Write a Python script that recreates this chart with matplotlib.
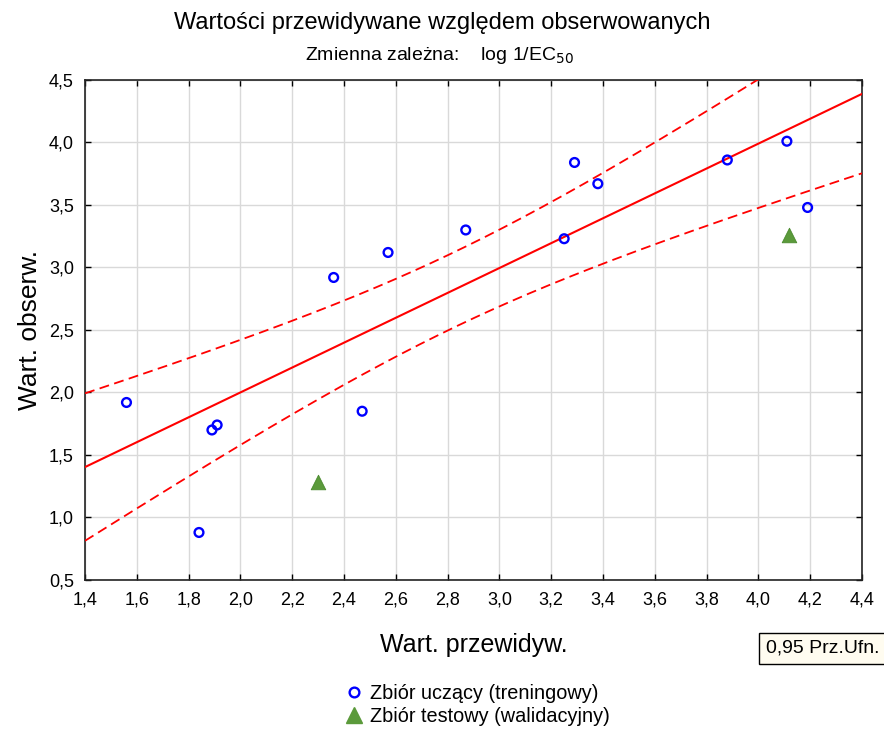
import numpy as np
import matplotlib
matplotlib.use("Agg")
import matplotlib.pyplot as plt
from matplotlib.ticker import FixedLocator, FuncFormatter
from matplotlib.lines import Line2D

plt.rcParams['font.family'] = ['Liberation Sans', 'DejaVu Sans']

# Training set: predicted vs observed log 1/EC50
train_pred = [1.56, 1.84, 1.89, 1.91, 2.36, 2.47, 2.57, 2.87, 3.25, 3.29, 3.38, 3.88, 4.11, 4.19]
train_obs = [1.92, 0.88, 1.70, 1.74, 2.92, 1.85, 3.12, 3.30, 3.23, 3.84, 3.67, 3.86, 4.01, 3.48]

# Test (validation) set
test_pred = [2.30, 4.12]
test_obs = [1.28, 3.26]

x_ticks = [1.4, 1.6, 1.8, 2.0, 2.2, 2.4, 2.6, 2.8, 3.0, 3.2, 3.4, 3.6, 3.8, 4.0, 4.2, 4.4]
y_ticks = [0.5, 1.0, 1.5, 2.0, 2.5, 3.0, 3.5, 4.0, 4.5]
conf_level = 0.95
t_crit = 2.179  # Student t, 0.975 quantile, 12 df

# Linear fit of observed on predicted, with 95% confidence band for the mean
xp = np.array(train_pred)
yp = np.array(train_obs)
n = len(xp)
slope, intercept = np.polyfit(xp, yp, 1)
resid = yp - (slope * xp + intercept)
s = np.sqrt(np.sum(resid ** 2) / (n - 2))
sxx = np.sum((xp - xp.mean()) ** 2)
xs = np.linspace(x_ticks[0], x_ticks[-1], 300)
fit = slope * xs + intercept
half = t_crit * s * np.sqrt(1.0 / n + (xs - xp.mean()) ** 2 / sxx)

fig = plt.figure(figsize=(8.84, 7.31), dpi=100)
ax = fig.add_axes([0.0962, 0.2066, 0.8789, 0.6840])

ax.set_xlim(x_ticks[0], x_ticks[-1])
ax.set_ylim(y_ticks[0], y_ticks[-1])
ax.xaxis.set_major_locator(FixedLocator(x_ticks))
ax.yaxis.set_major_locator(FixedLocator(y_ticks))
comma = FuncFormatter(lambda v, p: f"{v:.1f}".replace('.', ','))
ax.xaxis.set_major_formatter(comma)
ax.yaxis.set_major_formatter(comma)
ax.grid(True, color='#d9d9d9', linewidth=1.0)
ax.set_axisbelow(True)
ax.tick_params(direction='in', length=4, width=1, labelsize=13, colors='black',
               top=True, right=True, pad=8)
for sp in ax.spines.values():
    sp.set_linewidth(1.2)
    sp.set_color('#222222')

ax.plot(xs, fit, color='#ff0000', linewidth=1.5, zorder=3)
ax.plot(xs, fit + half, color='#ff0000', linewidth=1.3, dashes=(5.5, 3), zorder=3)
ax.plot(xs, fit - half, color='#ff0000', linewidth=1.3, dashes=(5.5, 3), zorder=3)

ax.scatter(train_pred, train_obs, s=40, facecolors='none', edgecolors='#0000ff',
           linewidths=1.7, zorder=4)
ax.scatter(test_pred, test_obs, s=110, marker='^', color='#5b9a3b',
           edgecolors='#4a8a2e', linewidths=0.6, zorder=4)

ax.set_xlabel('Wart. przewidyw.', fontsize=18, labelpad=18)
ax.set_ylabel('Wart. obserw.', fontsize=19)
ax.yaxis.set_label_coords(-0.056, 0.5)

fig.text(0.5, 0.968, 'Wartości przewidywane względem obserwowanych', ha='center',
         va='center', fontsize=17)
fig.text(0.497, 0.924, r'Zmienna zależna:    log 1/EC$_{50}$', ha='center', va='center',
         fontsize=14)

fig.text(0.866, 0.113, f"{conf_level:.2f}".replace('.', ',') + ' Prz.Ufn.', ha='left',
         va='center', fontsize=14,
         bbox=dict(boxstyle='square,pad=0.35', facecolor='#fffcf0', edgecolor='black',
                   linewidth=1.0))

handles = [
    Line2D([], [], marker='o', linestyle='none', markerfacecolor='none',
           markeredgecolor='#0000ff', markeredgewidth=1.7, markersize=7),
    Line2D([], [], marker='^', linestyle='none', color='#5b9a3b', markersize=12),
]
fig.legend(handles, ['Zbiór uczący (treningowy)', 'Zbiór testowy (walidacyjny)'],
           loc='center left', bbox_to_anchor=(0.38, 0.036), frameon=False,
           fontsize=14.3, handletextpad=0.3, labelspacing=0.2, borderaxespad=0,
           handlelength=1.0)

fig.savefig('out.png', dpi=100)
